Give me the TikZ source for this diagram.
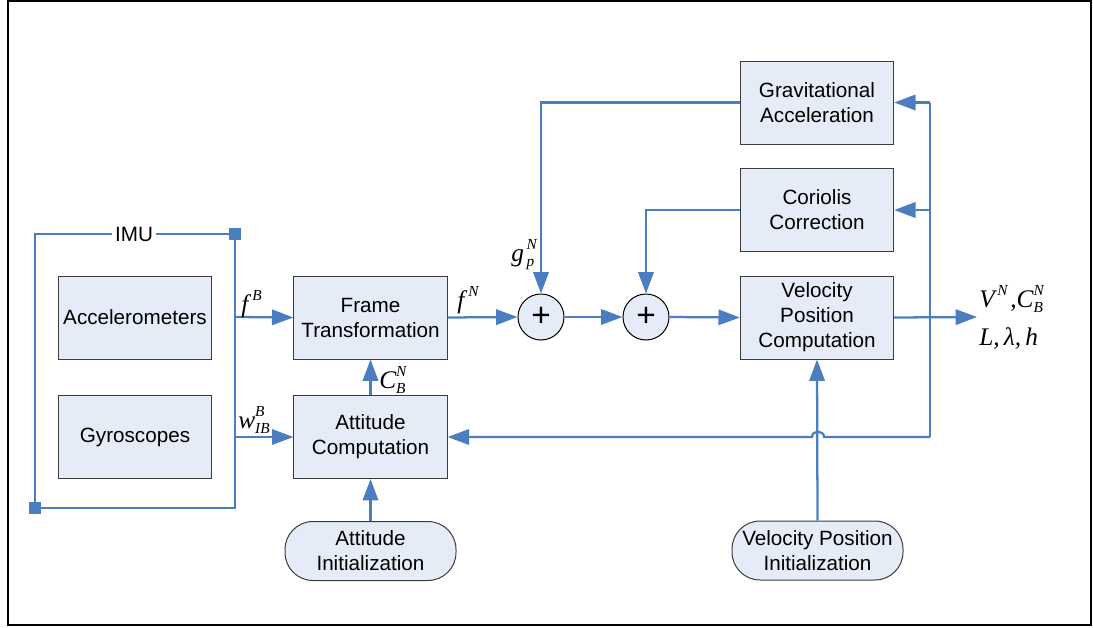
\documentclass[tikz,border=0pt]{standalone}
\usepackage{fontspec}
\setmainfont{Liberation Sans}
\newfontfamily\tms{Liberation Serif}
\usetikzlibrary{arrows.meta}
\definecolor{wire}{RGB}{74,126,193}
\definecolor{boxfill}{RGB}{230,236,247}
\definecolor{boxline}{RGB}{60,60,60}
% stacked super/subscript for the signal names
\newcommand\stk[2]{{\fontsize{11.5}{11.5}\selectfont
  \setbox0\hbox{#1}\setbox2\hbox{#2}%
  \ifdim\wd0>\wd2 \rlap{\raisebox{-0.37em}{\box2}}\raisebox{0.75em}{\box0}%
  \else\rlap{\raisebox{0.75em}{\box0}}\raisebox{-0.37em}{\box2}\fi}}
\begin{document}
\begin{tikzpicture}[x=0.75pt,y=-0.75pt,
  font=\fontsize{15.5}{18.75}\selectfont,
  block/.style={draw=boxline, fill=boxfill, line width=0.75pt, align=center,
    minimum width=115pt, minimum height=62.25pt, inner sep=0pt},
  init/.style={block, rounded corners=21pt, minimum width=128.25pt, minimum height=44.25pt},
  sum/.style={circle, draw=black, fill=boxfill, line width=0.75pt, minimum size=34.5pt,
    inner sep=0pt, font=\fontsize{25}{25}\selectfont},
  wire/.style={draw=wire, line width=1.7pt},
  flow/.style={wire, -{Triangle[length=16pt,width=11.5pt]}},
  sym/.style={font=\fontsize{19}{19}\selectfont\tms\itshape, inner sep=0pt, anchor=base west},
  corner/.style={fill=wire, minimum size=8.5pt, inner sep=0pt}]

\useasboundingbox (0,0) rectangle (1093,628);
\draw[line width=1.5pt] (7.5,1) rectangle (1091,625);

% IMU enclosure
\draw[wire] (35,234) rectangle (235,508);
\node[fill=white, inner sep=2pt] (imu) at (134,234) {IMU};
\node[corner] (imuTR) at (235,234) {};
\node[corner] (imuBL) at (35,508) {};
\node[block] (acc) at (135,317.5) {Accelerometers};
\node[block] (gyr) at (135,437) {Gyroscopes};

% processing blocks
\node[block] (ft)  at (370.5,317.5) {Frame\\Transformation};
\node[block] (att) at (370.5,437)   {Attitude\\Computation};
\node[block] (grav) at (817,102.5)  {Gravitational\\Acceleration};
\node[block] (cor)  at (817,210)    {Coriolis\\Correction};
\node[block] (vpc)  at (817,317.5)  {Velocity\\Position\\Computation};
\node[sum] (s1) at (541,317) {+};
\node[sum] (s2) at (646,317) {+};
\node[init] (ai)  at (370.5,551) {Attitude\\Initialization};
\node[init] (vpi) at (817.5,550.5) {Velocity Position\\Initialization};

% junction points
\coordinate (tapF) at (235,317);
\coordinate (tapW) at (235,437);
\coordinate (out)  at (977,317);
\coordinate (fbG)  at (930,102.5);
\coordinate (fbC)  at (930,210);
\coordinate (fbB)  at (930,437);
\coordinate (hopR) at (824,437);
\coordinate (hopL) at (812,437);

% signal flow
\draw[flow] (tapF) -- (ft.west);
\draw[flow] (tapW) -- (att.west);
\draw[flow] (att.north) -- (ft.south);
\draw[flow] (ai.north) -- (att.south);
\draw[flow] (ft.east) -- (s1.west);
\draw[flow] (s1.east) -- (s2.west);
\draw[flow] (s2.east) -- (vpc.west);
\draw[flow] (grav.west) -| (s1.north);
\draw[flow] (cor.west) -| (s2.north);
\draw[flow] (vpc.east) -- (out);
\draw[flow] (vpi.north) -- (vpc.south);
\draw[wire] (fbG) -- (fbB);
\draw[flow] (fbG) -- (grav.east);
\draw[flow] (fbC) -- (cor.east);
\draw[flow] (fbB) -- (hopR) .. controls (824,430) and (812,430) .. (hopL) -- (att.east);

% signal names
\node[sym] (lfB) at (241,312) {f\kern3pt\stk{B}{}};
\node[sym] (lw)  at (238,428) {w\stk{B}{IB}};
\node[sym] (lfN) at (457,308) {f\kern3pt\stk{N}{}};
\node[sym] (lC)  at (379,388) {C\stk{N}{B}};
\node[sym] (lg)  at (511,261) {g\kern2pt\stk{N}{p}};
\node[sym] (lo1) at (979,307) {V\kern2pt\stk{N}{}\kern2pt,C\stk{N}{B}};
\node[sym] (lo2) at (979,345) {L,\,λ,\,h};
\end{tikzpicture}
\end{document}
